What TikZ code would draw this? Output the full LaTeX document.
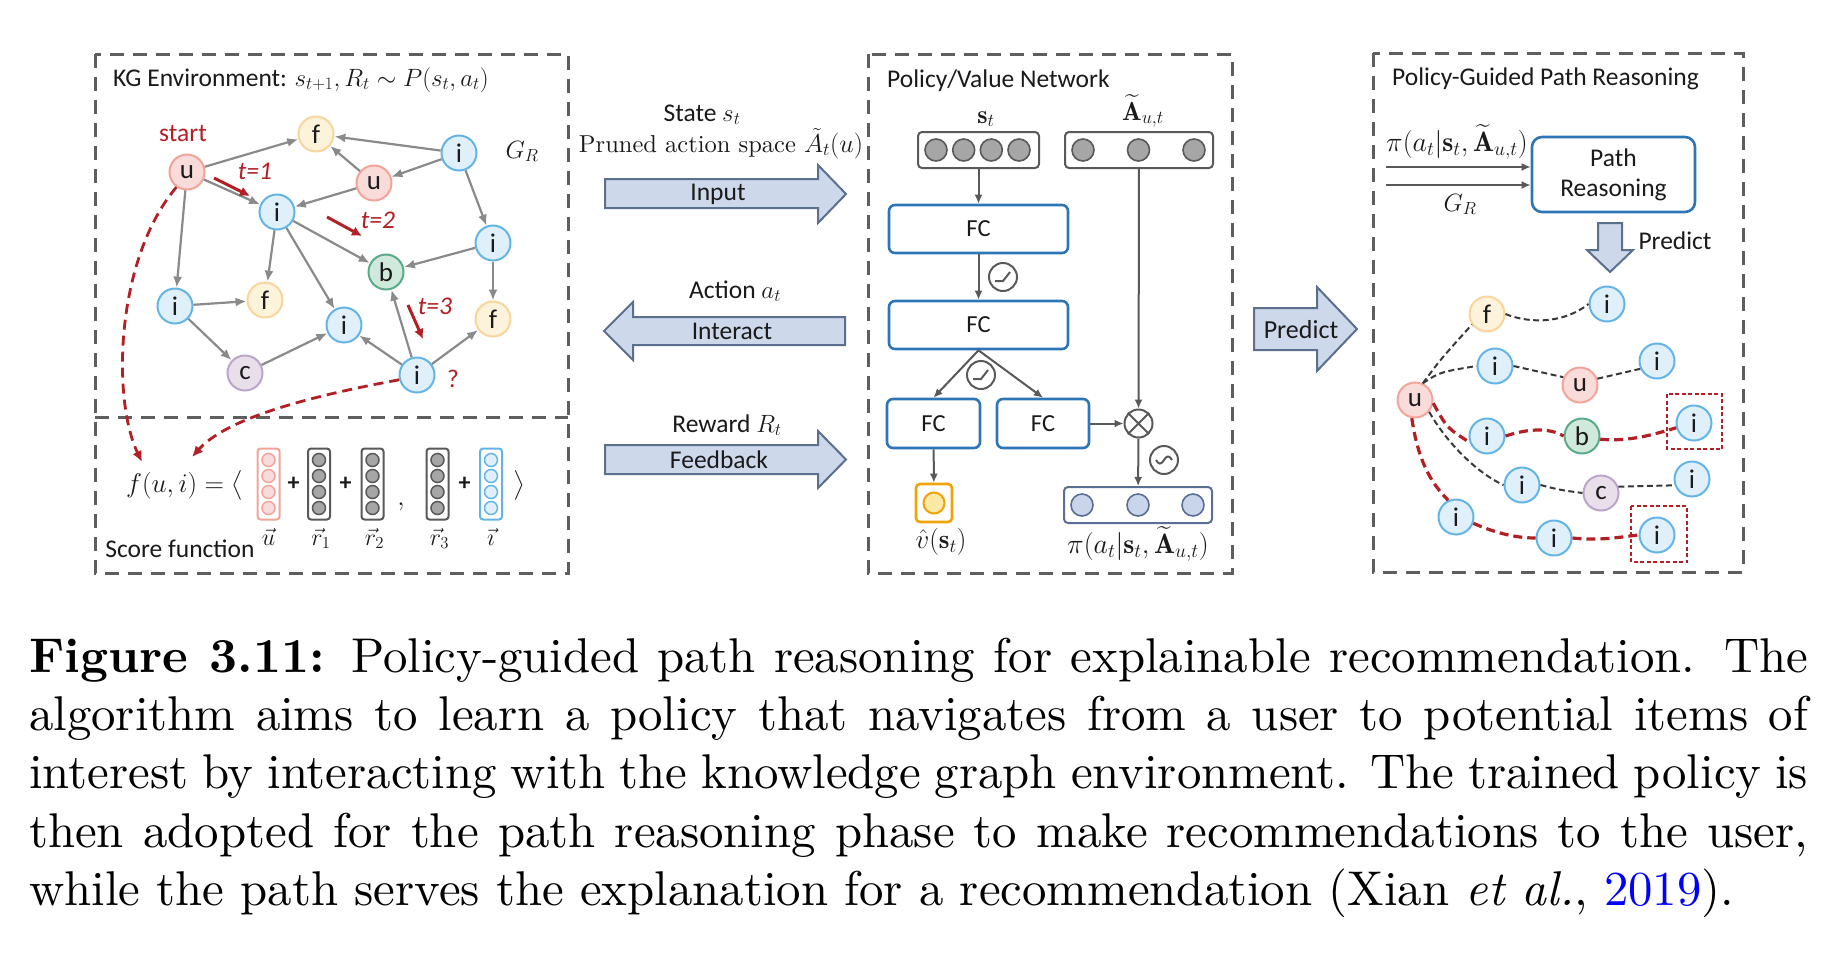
\RequirePackage{fix-cm}
\documentclass[tikz,border=0pt]{standalone}
\usepackage{amsmath}
\usepackage{fontspec}
\newfontfamily\cali{Carlito}
\newfontfamily\capfont{lmroman10-regular.otf}[BoldFont=lmroman10-bold.otf,ItalicFont=lmroman10-italic.otf]
\usetikzlibrary{arrows.meta}
\definecolor{ufill}{HTML}{F9DCDA}\definecolor{uline}{HTML}{F2A49B}
\definecolor{ffill}{HTML}{FDF3DA}\definecolor{fline}{HTML}{F8D59A}
\definecolor{ifill}{HTML}{DFF0FB}\definecolor{iline}{HTML}{64B5E6}
\definecolor{bfill}{HTML}{CFE9DD}\definecolor{bline}{HTML}{5BAA8A}
\definecolor{cfill}{HTML}{E8DFEB}\definecolor{cline}{HTML}{BBA5CA}
\definecolor{redc}{HTML}{B21F24}
\definecolor{edgegray}{HTML}{8A8A8A}
\definecolor{boxgray}{HTML}{5E5E5E}
\definecolor{fcblue}{HTML}{2E75B6}
\definecolor{arrfill}{HTML}{CDD8EA}\definecolor{arrline}{HTML}{5B6F8F}
\definecolor{pifill}{HTML}{C9D5EA}\definecolor{piline}{HTML}{5B6F93}
\definecolor{orng}{HTML}{F0A30A}\definecolor{yfill}{HTML}{FDE9A6}
\definecolor{dark}{HTML}{595959}\definecolor{vecgray}{HTML}{A6A6A6}
\definecolor{txt}{HTML}{1A1A1A}
\newcommand{\lbl}{\cali\fontsize{25.5}{29}\selectfont}
\newcommand{\mlbl}{\cali\fontsize{25.5}{29}\selectfont}
\newcommand{\mymath}[1]{{\fontsize{25}{25}\selectfont$#1$}}
\begin{document}
\begin{tikzpicture}[x=1pt,y=-1pt,
 kg/.style={circle,minimum size=35pt,inner sep=0pt,line width=2pt,font=\cali\fontsize{27}{27}\selectfont,text=txt},
 knu/.style={kg,fill=ufill,draw=uline},
 knf/.style={kg,fill=ffill,draw=fline},
 kni/.style={kg,fill=ifill,draw=iline},
 knb/.style={kg,fill=bfill,draw=bline},
 knc/.style={kg,fill=cfill,draw=cline},
 kgedge/.style={draw=edgegray,line width=2.2pt,-{Latex[length=11pt,width=9pt]}},
 redarr/.style={draw=redc,line width=3pt,-{Latex[length=10pt,width=10pt]}},
 reddash/.style={draw=redc,line width=2.8pt,dash pattern=on 10pt off 6pt,-{Latex[length=11pt,width=10pt]}},
 panel/.style={draw=boxgray,line width=3pt,dash pattern=on 14pt off 9pt},
 fcbox/.style={draw=fcblue,line width=2.6pt,rounded corners=6pt,font=\cali\fontsize{24.5}{24.5}\selectfont,inner sep=0pt,text=txt},
 netarr/.style={draw=dark,line width=2pt,-{Latex[length=9pt,width=8pt]}},
 opc/.style={circle,draw=dark,line width=2pt,minimum size=28pt,inner sep=0pt},
 vbox/.style={draw=dark,line width=2pt,rounded corners=4pt,inner sep=0pt},
 gcirc/.style={circle,draw=dark,fill=vecgray,line width=1.6pt,minimum size=22pt,inner sep=0pt},
 pcirc/.style={circle,draw=piline,fill=pifill,line width=1.6pt,minimum size=22pt,inner sep=0pt},
 bigarr/.style={draw=arrline,fill=arrfill,line width=2pt,line join=miter},
 gdash/.style={draw=black!78,line width=2pt,dash pattern=on 6pt off 3.5pt},
 rdash/.style={draw=redc,line width=3.2pt,dash pattern=on 9pt off 5pt},
 rsq/.style={draw=redc,line width=1.8pt,dash pattern=on 4pt off 2.5pt}
]
\fill[white] (0,0) rectangle (1834,954);
\useasboundingbox (0,0) rectangle (1834,954);

% ---------------- KG environment panel
\draw[panel] (95,54) rectangle (568,573);
\draw[panel] (95,417) -- (568,417);
\node[anchor=base west,inner sep=0pt,text=txt] (kgt) at (113,86) {\lbl KG Environment: \mymath{s_{t+1},R_t\sim P(s_t,a_t)}};

\node[knu] (u1) at (187,172) {u};
\node[knf] (f1) at (316,134) {f};
\node[kni] (i1) at (459,153) {i};
\node[knu] (u2) at (374,183) {u};
\node[kni] (i2) at (277,212) {i};
\node[kni] (i3) at (493,243) {i};
\node[knb] (b1) at (386,272) {b};
\node[kni] (i4) at (175,306) {i};
\node[knf] (f2) at (265,300) {f};
\node[kni] (i5) at (344,325) {i};
\node[knf] (f3) at (493,319) {f};
\node[knc] (c1) at (245,373) {c};
\node[kni] (i6) at (417,375) {i};

\draw[kgedge] (u1) -- (f1);
\draw[kgedge] (u1) -- (i2);
\draw[kgedge] (u1) -- (i4);
\draw[kgedge] (i1) -- (f1);
\draw[kgedge] (u2) -- (f1);
\draw[kgedge] (i1) -- (u2);
\draw[kgedge] (u2) -- (i2);
\draw[kgedge] (i1) -- (i3);
\draw[kgedge] (i2) -- (b1);
\draw[kgedge] (i2) -- (f2);
\draw[kgedge] (i2) -- (i5);
\draw[kgedge] (i3) -- (b1);
\draw[kgedge] (i3) -- (f3);
\draw[kgedge] (i4) -- (f2);
\draw[kgedge] (i4) -- (c1);
\draw[kgedge] (c1) -- (i5);
\draw[kgedge] (i6) -- (i5);
\draw[kgedge] (i6) -- (b1);
\draw[kgedge] (i6) -- (f3);

\node[anchor=base,inner sep=0pt,text=redc] (start) at (183,141) {\lbl start};
\coordinate (t1a) at (214,178); \coordinate (t1b) at (250,196);
\coordinate (t2a) at (327,217); \coordinate (t2b) at (362,236);
\coordinate (t3a) at (408,305); \coordinate (t3b) at (423,339);
\draw[redarr] (t1a) -- (t1b);
\draw[redarr] (t2a) -- (t2b);
\draw[redarr] (t3a) -- (t3b);
\node[anchor=base,inner sep=0pt,text=redc] (lt1) at (255,179) {\lbl\itshape t=1};
\node[anchor=base,inner sep=0pt,text=redc] (lt2) at (378,228) {\lbl\itshape t=2};
\node[anchor=base,inner sep=0pt,text=redc] (lt3) at (435,314) {\lbl\itshape t=3};
\node[anchor=base,inner sep=0pt,text=redc] (q) at (453,387) {\lbl ?};
\node[anchor=base,inner sep=0pt,text=txt] (gr) at (522,158) {\fontsize{25}{25}\selectfont $G_R$};

% score function
\coordinate (fa1) at (142,462);
\coordinate (fa2) at (192,457);
\draw[reddash] (u1.-125) .. controls (115,260) and (112,400) .. (fa1);
\draw[reddash] (i6.195) .. controls (300,398) and (225,420) .. (fa2);

\node[anchor=base west,inner sep=0pt,text=txt] (fui) at (126,492) {\fontsize{27}{27}\selectfont $f(u,i) = \big\langle$};
\foreach \nm/\xx/\bc/\fc in {vu/268.5/uline/ufill, vr1/319/dark/vecgray, vr2/372.5/dark/vecgray, vr3/437.5/dark/vecgray, vi/491/iline/ifill}{
  \node[draw=\bc,line width=2pt,rounded corners=3pt,minimum width=22pt,minimum height=71pt,inner sep=0pt] (\nm) at (\xx,484) {};
  \foreach \k/\yy in {1/460,2/476,3/492,4/508}
    \node[circle,draw=\bc,fill=\fc,line width=1.5pt,minimum size=13pt,inner sep=0pt] (\nm c\k) at (\xx,\yy) {};
}
\node[text=txt,inner sep=0pt] (p1) at (293.5,484) {\cali\bfseries\fontsize{24}{24}\selectfont +};
\node[text=txt,inner sep=0pt] (p2) at (345.5,484) {\cali\bfseries\fontsize{24}{24}\selectfont +};
\node[text=txt,inner sep=0pt] (p3) at (464.5,484) {\cali\bfseries\fontsize{24}{24}\selectfont +};
\node[anchor=base,text=txt,inner sep=0pt] (cm) at (401,505) {\fontsize{27}{27}\selectfont $,$};
\node[anchor=base,text=txt,inner sep=0pt] (rang) at (519,492) {\fontsize{27}{27}\selectfont $\big\rangle$};
\node[anchor=base,text=txt,inner sep=0pt] (lu) at (268.5,545) {\fontsize{24}{24}\selectfont $\vec{u}$};
\node[anchor=base,text=txt,inner sep=0pt] (lr1) at (321,545) {\fontsize{24}{24}\selectfont $\vec{r}_1$};
\node[anchor=base,text=txt,inner sep=0pt] (lr2) at (374.5,545) {\fontsize{24}{24}\selectfont $\vec{r}_2$};
\node[anchor=base,text=txt,inner sep=0pt] (lr3) at (439.5,545) {\fontsize{24}{24}\selectfont $\vec{r}_3$};
\node[anchor=base,text=txt,inner sep=0pt] (li) at (491,545) {\fontsize{24}{24}\selectfont $\vec{\imath}$};
\node[anchor=base,text=txt,inner sep=0pt] (scf) at (180,557) {\cali\fontsize{25.5}{29}\selectfont Score function};

% ---------------- middle arrows
\node[anchor=base,inner sep=0pt,text=txt] (st) at (702,121) {\mlbl State \mymath{s_t}};
\node[anchor=base,inner sep=0pt,text=txt] (pas) at (721,152) {\capfont\fontsize{24.5}{27}\selectfont Pruned action space {\fontsize{26}{26}\selectfont$\tilde{A}_t(u)$}};
\draw[bigarr] (605,179) -- (818,179) -- (818,165) -- (846,194) -- (818,223) -- (818,208) -- (605,208) -- cycle;
\node[inner sep=0pt,text=txt] (inp) at (718,194) {\mlbl Input};
\node[anchor=base,inner sep=0pt,text=txt] (act) at (735,298) {\mlbl Action \mymath{a_t}};
\draw[bigarr] (845,317) -- (633,317) -- (633,302) -- (604,331) -- (633,360) -- (633,345) -- (845,345) -- cycle;
\node[inner sep=0pt,text=txt] (intr) at (732,331) {\mlbl Interact};
\node[anchor=base,inner sep=0pt,text=txt] (rew) at (727,432) {\mlbl Reward \mymath{R_t}};
\draw[bigarr] (605,445) -- (818,445) -- (818,431) -- (846,459.5) -- (818,488) -- (818,474) -- (605,474) -- cycle;
\node[inner sep=0pt,text=txt] (fb) at (719,460) {\mlbl Feedback};

% ---------------- policy / value network
\draw[panel] (868,54) rectangle (1232,573);
\node[anchor=base west,inner sep=0pt,text=txt] (pvt) at (887,87) {\lbl Policy/Value Network};
\node[anchor=base,inner sep=0pt,text=txt] (lst) at (986,123) {\fontsize{26}{26}\selectfont $\mathbf{s}_t$};
\node[anchor=base,inner sep=0pt,text=txt] (lA) at (1143,120) {\fontsize{26}{26}\selectfont $\widetilde{\mathbf{A}}_{u,t}$};
\node[vbox,minimum width=121pt,minimum height=36pt] (sbox) at (978.5,150) {};
\node[vbox,minimum width=148pt,minimum height=36pt] (abox) at (1139,150) {};
\foreach \k/\xx in {1/936,2/963.7,3/991.3,4/1019} \node[gcirc] (sc\k) at (\xx,150) {};
\foreach \k/\xx in {1/1083,2/1138.5,3/1194} \node[gcirc] (ac\k) at (\xx,150) {};
\node[fcbox,minimum width=179pt,minimum height=48pt] (fc1) at (978.5,229) {FC};
\node[fcbox,minimum width=179pt,minimum height=48pt] (fc2) at (978.5,325) {FC};
\node[fcbox,minimum width=93pt,minimum height=49pt] (fc3) at (933.5,423.5) {FC};
\node[fcbox,minimum width=92pt,minimum height=49pt] (fc4) at (1043,423.5) {FC};
\node[opc] (relu1) at (1003,277) {};
\node[opc] (relu2) at (981,375) {};
\node[opc] (otim) at (1138.5,423.5) {};
\node[opc] (tild) at (1164,460) {};
\draw[dark,line width=2pt] (relu1.center) ++(-8,4) -- ++(8,0) -- ++(7,-9);
\draw[dark,line width=2pt] (relu2.center) ++(-8,4) -- ++(8,0) -- ++(7,-9);
\draw[dark,line width=2pt] (otim.45) -- (otim.225) (otim.135) -- (otim.315);
\begin{scope}[shift={(tild.center)}]
\draw[dark,line width=2pt] plot[domain=-8:8,samples=30,smooth] (\x,{-3.5*sin(\x*22.5)});
\end{scope}
\node[vbox,draw=piline,minimum width=148pt,minimum height=36pt] (pbox) at (1138,505) {};
\foreach \k/\xx in {1/1082,2/1138,3/1193} \node[pcirc] (pc\k) at (\xx,505) {};
\node[draw=orng,line width=2.6pt,rounded corners=4pt,minimum width=36pt,minimum height=38pt,inner sep=0pt] (vbx) at (934,503) {};
\node[circle,draw=orng,fill=yfill,line width=2pt,minimum size=21pt,inner sep=0pt] (vcirc) at (934,503) {};
\node[anchor=base,inner sep=0pt,text=txt] (lv) at (941,548) {\fontsize{27}{27}\selectfont $\hat{v}(\mathbf{s}_t)$};
\node[anchor=base,inner sep=0pt,text=txt] (lpi) at (1138,553) {\fontsize{28}{28}\selectfont $\pi(a_t|\mathbf{s}_t,\widetilde{\mathbf{A}}_{u,t})$};
\draw[netarr] (sbox) -- (fc1);
\draw[netarr] (fc1) -- (fc2);
\draw[netarr] (fc2.south) -- (fc3.north);
\draw[netarr] (fc2.south) -- (fc4.north);
\draw[netarr] (fc3) -- (vbx);
\draw[netarr] (fc4) -- (otim);
\draw[netarr] (abox) -- (otim);
\draw[netarr] (otim) -- (pbox);

% ---------------- predict arrow
\draw[bigarr] (1254,308) -- (1317,308) -- (1317,287) -- (1357,329) -- (1317,371) -- (1317,350) -- (1254,350) -- cycle;
\node[inner sep=0pt,text=txt] (pred) at (1301,330) {\cali\fontsize{26}{26}\selectfont Predict};

% ---------------- path reasoning panel
\draw[panel] (1373,53) rectangle (1743,572);
\node[anchor=base west,inner sep=0pt,text=txt] (pgt) at (1392,85) {\lbl Policy-Guided Path Reasoning};
\node[draw=fcblue,line width=2.6pt,rounded corners=10pt,minimum width=163pt,minimum height=75pt,align=center,inner sep=0pt,text=txt,font=\cali\fontsize{25.5}{30}\selectfont] (pr) at (1613.5,174.5) {Path\\Reasoning};
\coordinate (pa1) at (1386,167);
\coordinate (pa2) at (1386,185);
\draw[netarr] (pa1) -- (pa1 -| pr.west);
\draw[netarr] (pa2) -- (pa2 -| pr.west);
\node[anchor=base,inner sep=0pt,text=txt] (lpi2) at (1457,151) {\fontsize{28}{28}\selectfont $\pi(a_t|\mathbf{s}_t,\widetilde{\mathbf{A}}_{u,t})$};
\node[anchor=base,inner sep=0pt,text=txt] (lgr2) at (1460,211) {\fontsize{25}{25}\selectfont $G_R$};
\draw[bigarr] (1598,223) -- (1622,223) -- (1622,250) -- (1633,250) -- (1610,272) -- (1587,250) -- (1598,250) -- cycle;
\node[anchor=base,inner sep=0pt,text=txt] (pred2) at (1675,249) {\cali\fontsize{25.5}{25.5}\selectfont Predict};

\node[knu] (ru) at (1415,400) {u};
\node[knf] (rf) at (1487,314) {f};
\node[kni] (ri1) at (1607,304) {i};
\node[kni] (ri2) at (1495,366) {i};
\node[knu] (ru2) at (1580,385) {u};
\node[kni] (ri3) at (1657,361) {i};
\node[kni] (ri4) at (1487,436) {i};
\node[knb] (rb) at (1582,436) {b};
\node[kni] (ri5) at (1694,423) {i};
\node[kni] (ri6) at (1522,485) {i};
\node[knc] (rc) at (1601,493) {c};
\node[kni] (ri7) at (1692,479) {i};
\node[kni] (ri8) at (1456,517) {i};
\node[kni] (ri9) at (1554,538) {i};
\node[kni] (ri10) at (1657,535) {i};

\draw[gdash] (ru.65) .. controls (1440,360) .. (rf.215);
\draw[gdash] (rf.east) .. controls (1525,322) and (1560,326) .. (ri1.west);
\draw[gdash] (ru.65) .. controls (1440,372) .. (ri2.west);
\draw[gdash] (ri2.east) -- (ru2.155);
\draw[gdash] (ru2.20) -- (ri3.205);
\draw[gdash] (ru.-40) .. controls (1445,440) and (1475,472) .. (ri6.west);
\draw[gdash] (ri6.east) .. controls (1560,490) .. (rc.west);
\draw[gdash] (rc.20) -- (ri7.200);
\draw[rdash] (ru.-10) .. controls (1447,428) .. (ri4.200);
\draw[rdash] (ri4.east) .. controls (1530,428) and (1550,428) .. (rb.west);
\draw[rdash] (rb.-10) .. controls (1630,442) and (1655,434) .. (ri5.195);
\draw[rdash] (ru.-100) .. controls (1418,460) and (1430,482) .. (ri8.115);
\draw[rdash] (ri8.-20) .. controls (1500,535) and (1520,538) .. (ri9.west);
\draw[rdash] (ri9.east) .. controls (1600,541) and (1620,537) .. (ri10.west);
\draw[rsq] (1667,394) rectangle (1722,449);
\draw[rsq] (1631,506) rectangle (1687,562);

% ---------------- caption
\begin{scope}[every node/.style={anchor=base west,inner sep=0pt,font=\capfont\fontsize{48.8}{58}\selectfont}]
\node (c1) at (29,672) {\makebox[1779pt][s]{\textbf{Figure 3.11:} Policy-guided path reasoning for explainable recommendation. The}};
\node (c2) at (29,730) {\makebox[1779pt][s]{algorithm aims to learn a policy that navigates from a user to potential items of}};
\node (c3) at (29,788) {\makebox[1779pt][s]{interest by interacting with the knowledge graph environment. The trained policy is}};
\node (c4) at (29,847) {\makebox[1779pt][s]{then adopted for the path reasoning phase to make recommendations to the user,}};
\node (c5) at (29,905) {while the path serves the explanation for a recommendation (Xian \textit{et al.}, \textcolor{blue}{2019}).};
\end{scope}
\end{tikzpicture}
\end{document}
